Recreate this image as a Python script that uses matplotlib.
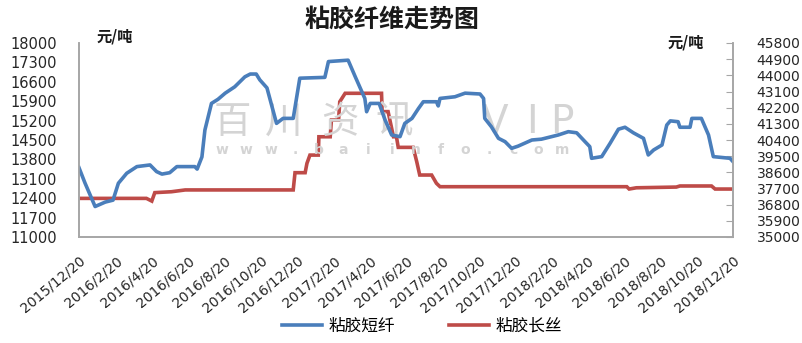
import matplotlib
matplotlib.use("Agg")
import matplotlib.pyplot as plt
import numpy as np
import pandas as pd

plt.rcParams['font.family'] = ['Noto Sans CJK SC', 'DejaVu Sans']

START = "2015-12-20"
END = "2018-12-20"

# 粘胶短纤 (left axis), day offset from START and price in 元/吨
staple_days = [0, 10, 27, 44, 57, 66, 80, 97, 119, 130, 139, 152, 164, 194, 198,
               206, 211, 222, 233, 245, 261, 278, 287, 297, 303, 315, 331, 342,
               359, 370, 412, 418, 451, 463, 479, 482, 488, 503, 513, 524, 538,
               546, 558, 569, 577, 599, 602, 605, 630, 647, 672, 678, 680, 691,
               703, 714, 725, 736, 759, 775, 803, 820, 834, 848, 856, 859, 876,
               890, 904, 915, 929, 946, 954, 963, 977, 985, 991, 1004, 1007,
               1024, 1027, 1043, 1055, 1063, 1091, 1096]
staple_price = [13500, 12950, 12100, 12260, 12330, 12940, 13300, 13540, 13600,
                13360, 13270, 13320, 13540, 13540, 13450, 13890, 14860, 15820,
                15970, 16190, 16420, 16780, 16880, 16880, 16670, 16380, 15100,
                15280, 15280, 16730, 16760, 17330, 17380, 16780, 16000, 15520,
                15820, 15820, 15220, 14680, 14620, 15100, 15280, 15640, 15880,
                15880, 15730, 16000, 16060, 16190, 16160, 16000, 15280, 14980,
                14560, 14440, 14200, 14280, 14500, 14530, 14680, 14800, 14760,
                14440, 14260, 13840, 13900, 14380, 14890, 14960, 14760, 14560,
                13960, 14140, 14320, 15040, 15190, 15160, 14960, 14960, 15280,
                15280, 14680, 13900, 13840, 13720]

# 粘胶长丝 (right axis)
filament_days = [0, 113, 122, 127, 155, 178, 359, 362, 379, 382, 387, 401, 402,
                 421, 423, 435, 437, 446, 507, 508, 518, 521, 527, 532, 535, 560,
                 566, 571, 591, 599, 605, 918, 922, 934, 1001, 1007, 1060, 1066,
                 1096]
filament_price = [37150, 37150, 37000, 37470, 37520, 37620, 37620, 38580, 38580,
                  39100, 39560, 39560, 40580, 40580, 41510, 41510, 42530, 43000,
                  43000, 41980, 41980, 41510, 40580, 40580, 39990, 39990, 39190,
                  38450, 38450, 37990, 37800, 37800, 37670, 37740, 37780, 37840,
                  37840, 37670, 37670]

left_ticks = list(range(11000, 18001, 700))
right_ticks = list(range(35000, 45801, 900))
series_names = ["粘胶短纤", "粘胶长丝"]
title = "粘胶纤维走势图"
unit = "元/吨"
mark_cn = "百川资讯"
mark_en = "VIP"
mark_url = "www.baiinfo.com"

BLUE = "#4a7ebb"
RED = "#be4b48"
TXT = "#262626"
SPINE = "#a6a6a6"
MARK = "#d4d4d4"

start = pd.Timestamp(START)
end = pd.Timestamp(END)
staple_dates = start + pd.to_timedelta(staple_days, unit="D")
filament_dates = start + pd.to_timedelta(filament_days, unit="D")
tick_dates = [start + pd.DateOffset(months=2 * k) for k in range(19)]

fig = plt.figure(figsize=(8.03, 3.43), dpi=100)
ax = fig.add_axes([79 / 803, 1 - 237 / 343, 654 / 803, 194 / 343])
ax2 = ax.twinx()

# faint watermark behind the lines
for ch, xc in zip(mark_cn, [232, 284, 340, 394]):
    fig.text(xc / 803, 1 - 122 / 343, ch, ha="center", va="center",
             fontsize=27, color=MARK, zorder=0)
for ch, xc in zip(mark_en, [495, 532, 562]):
    fig.text(xc / 803, 1 - 122 / 343, ch, ha="center", va="center",
             fontsize=28, color=MARK, family="DejaVu Sans", zorder=0)
for ch, xc in zip(mark_url, np.linspace(222, 562, len(mark_url))):
    fig.text(xc / 803, 1 - 150 / 343, ch, ha="center", va="center",
             fontsize=10, fontweight="bold", color=MARK,
             family="DejaVu Sans", zorder=0)

l1, = ax.plot(staple_dates, staple_price, color=BLUE, lw=2.6,
              solid_joinstyle="round", label=series_names[0])
l2, = ax2.plot(filament_dates, filament_price, color=RED, lw=2.6,
               solid_joinstyle="miter", label=series_names[1])
ax.set_zorder(ax2.get_zorder() + 1)
ax.patch.set_visible(False)

ax.set_xlim(start, end)
ax.set_ylim(11000, 18000)
ax2.set_ylim(35000, 45800)
ax.set_yticks(left_ticks)
ax2.set_yticks(right_ticks)
ax.set_xticks(tick_dates)
ax.set_xticklabels([f"{d.year}/{d.month}/{d.day}" for d in tick_dates],
                   rotation=40, ha="right", rotation_mode="anchor",
                   family="DejaVu Sans", fontsize=10, color=TXT)
ax.tick_params(axis="x", length=0, pad=12)
ax.tick_params(axis="y", length=0, pad=16, labelsize=10.5, labelcolor=TXT)
for lab in ax.get_yticklabels():
    lab.set_family("DejaVu Sans")
ax2.tick_params(axis="y", direction="in", length=5, color=SPINE, pad=17,
                labelsize=10, labelcolor=TXT)
for lab in ax2.get_yticklabels():
    lab.set_family("DejaVu Sans")

for a in (ax, ax2):
    a.spines["top"].set_visible(False)
    for s in ("left", "right", "bottom"):
        a.spines[s].set_color(SPINE)
        a.spines[s].set_linewidth(1.2)

fig.text(392 / 803, 1 - 20 / 343, title, ha="center", va="center",
         fontsize=18, fontweight="bold", color="#1a1a1a")
fig.text(97 / 803, 1 - 37 / 343, unit, ha="left", va="center",
         fontsize=11, fontweight="bold", color="#1a1a1a")
fig.text(668 / 803, 1 - 43 / 343, unit, ha="left", va="center",
         fontsize=11, fontweight="bold", color="#1a1a1a")

fig.legend([l1, l2], series_names, loc="center", ncol=2,
           bbox_to_anchor=(422 / 803, 1 - 326 / 343), frameon=False,
           fontsize=12, handlelength=2.4, columnspacing=3.2, handletextpad=0.4)

fig.savefig("out.png", dpi=100)
